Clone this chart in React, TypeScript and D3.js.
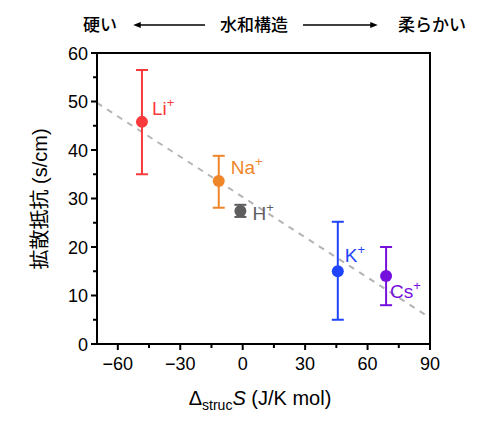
import * as d3 from 'd3';

const ions = ['Li', 'Na', 'H', 'K', 'Cs'];
const entropy = [-48.4, -11.5, -1.1, 45.7, 68.9];
const resistance = [45.8, 33.6, 27.4, 15.0, 14.0];
const errUpper = [56.5, 38.8, 28.7, 25.2, 20.0];
const errLower = [35.0, 28.1, 26.2, 5.0, 8.0];
const colors = ['#f93a3c', '#f0862a', '#5e5e5e', '#1f44fb', '#7610dc'];
const labelDx = [10, 12, 12, 7, 4];
const labelDy = [-7, -7, 9, -9, 22];
const fitLine = [[-70, 49.7], [90, 5.4]];
const xTicks = [-60, -30, 0, 30, 60, 90];
const yTicks = [0, 10, 20, 30, 40, 50, 60];

const W = 480, H = 427;
const m = { left: 97, right: 430, top: 53, bottom: 344 };

const App = () => {
  const x = d3.scaleLinear().domain([-70, 90]).range([m.left, m.right]);
  const y = d3.scaleLinear().domain([0, 60]).range([m.bottom, m.top]);
  const xMinor = d3.range(-60, 91, 15);
  const yMinor = d3.range(0, 61, 5);
  const font = '"Liberation Sans", Arial, sans-serif';
  const jp = '"Noto Sans CJK JP", "Liberation Sans", sans-serif';
  const line = d3.line().x(d => x(d[0])).y(d => y(d[1]));

  return (
    <svg width={W} height={H} style={{ position: 'absolute', left: 0, top: 0, background: '#fff' }}>
      <defs>
        <marker id="ah" viewBox="0 0 10 10" refX="5" refY="5" markerWidth="5" markerHeight="5" orient="auto-start-reverse">
          <path d="M0,1 L10,5 L0,9 z" fill="#000" />
        </marker>
      </defs>

      {/* top annotation */}
      <g fontFamily={jp} fontSize={17} fontWeight={500} fill="#000">
        <text x={83} y={31}>硬い</text>
        <text x={254} y={31} textAnchor="middle">水和構造</text>
        <text x={466} y={31} textAnchor="end">柔らかい</text>
        <line x1={205} x2={137} y1={25} y2={25} stroke="#000" strokeWidth={1.5} markerEnd="url(#ah)" />
        <line x1={303} x2={374} y1={25} y2={25} stroke="#000" strokeWidth={1.5} markerEnd="url(#ah)" />
      </g>

      {/* fit line */}
      <path d={line(fitLine as [number, number][]) || ''} stroke="#b4b4b4" strokeWidth={2} strokeDasharray="6,6" fill="none" />

      {/* error bars and points */}
      {ions.map((ion, i) => (
        <g key={ion} stroke={colors[i]} strokeWidth={2}>
          <line x1={x(entropy[i])} x2={x(entropy[i])} y1={y(errUpper[i])} y2={y(errLower[i])} />
          <line x1={x(entropy[i]) - 6} x2={x(entropy[i]) + 6} y1={y(errUpper[i])} y2={y(errUpper[i])} />
          <line x1={x(entropy[i]) - 6} x2={x(entropy[i]) + 6} y1={y(errLower[i])} y2={y(errLower[i])} />
          <circle cx={x(entropy[i])} cy={y(resistance[i])} r={6} fill={colors[i]} stroke="none" />
          <text x={x(entropy[i]) + labelDx[i]} y={y(resistance[i]) + labelDy[i]} fill={colors[i]} stroke="none"
            fontFamily={font} fontSize={19}>
            {ion}<tspan fontSize={13} dy={-8}>+</tspan>
          </text>
        </g>
      ))}

      {/* frame */}
      <rect x={m.left} y={m.top} width={m.right - m.left} height={m.bottom - m.top} fill="none" stroke="#000" strokeWidth={2} />

      {/* ticks */}
      <g stroke="#000" strokeWidth={2}>
        {xMinor.map(v => (
          <line key={'xm' + v} x1={x(v)} x2={x(v)} y1={m.bottom} y2={m.bottom + (xTicks.includes(v) ? 6 : 4)} />
        ))}
        {yMinor.map(v => (
          <line key={'ym' + v} x1={m.left} x2={m.left - (yTicks.includes(v) ? 6 : 4)} y1={y(v)} y2={y(v)} />
        ))}
      </g>
      <g fontFamily={font} fontSize={18} fill="#000">
        {xTicks.map(v => (
          <text key={'xt' + v} x={x(v)} y={m.bottom + 26} textAnchor="middle">{v < 0 ? '\u2212' + Math.abs(v) : v}</text>
        ))}
        {yTicks.map(v => (
          <text key={'yt' + v} x={m.left - 9} y={y(v) + 6.5} textAnchor="end">{v}</text>
        ))}
        <text x={260} y={405} textAnchor="middle" fontSize={20}>
          Δ<tspan fontSize={14} dy={5}>struc</tspan><tspan fontStyle="italic" dy={-5}>S</tspan> (J/K mol)
        </text>
      </g>
      <text transform="translate(47,199) rotate(-90)" textAnchor="middle" fontSize={20} fontFamily={jp} fill="#000">
        拡散抵抗<tspan fontFamily={font}> (s/cm)</tspan>
      </text>
    </svg>
  );
};

export default App;
